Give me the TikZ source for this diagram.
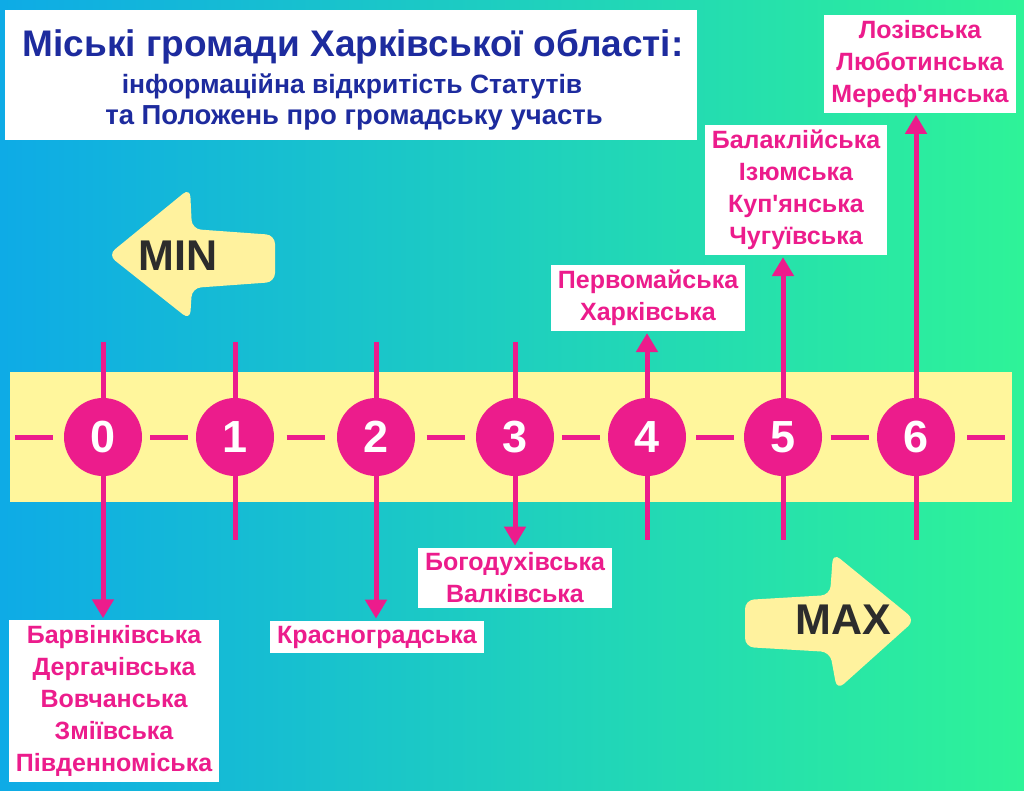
\documentclass[tikz,border=0pt]{standalone}
\usepackage{fontspec}
\setmainfont{Liberation Sans}
\usetikzlibrary{arrows.meta,calc}

\definecolor{bgblue}{HTML}{0EABE6}
\definecolor{bgteal}{HTML}{19CACB}
\definecolor{bggreen}{HTML}{2EF398}
\definecolor{bandyellow}{HTML}{FFF69C}
\definecolor{pointyellow}{HTML}{FFF29E}
\definecolor{hubpink}{HTML}{EC1C8C}
\definecolor{titleblue}{HTML}{1D2B9E}
\definecolor{darktext}{HTML}{2C2C2C}

\begin{document}
\begin{tikzpicture}[x=1pt, y=-1pt,
    level/.style ={circle, fill=hubpink, inner sep=0pt, minimum size=78pt, text=white, font=\fontsize{45}{45}\selectfont\bfseries},
    tick/.style ={hubpink, line width=5pt},
    pointer/.style ={tick, -{Triangle[width=21pt,length=19pt]}, shorten >=2pt},
    namebox/.style ={fill=white, inner xsep=7pt, inner ysep=5pt, align=center, text=hubpink, font=\fontsize{25}{32}\selectfont\bfseries},
    heading/.style ={text=titleblue, font=\bfseries},
    bigarrow/.style ={fill=pointyellow, rounded corners=9pt},
    arrowtext/.style ={text=darktext, font=\fontsize{43}{43}\selectfont\bfseries}]

   \shade[left color=bgblue, middle color=bgteal, right color=bggreen] (0,0) rectangle (1024,790);
   \fill[bandyellow] (10,372) rectangle (1012,502);

   \node[fill=white, minimum width=692pt, minimum height=130pt] (titlebox) at (351,75) {};
   \node[heading, font=\fontsize{37}{37}\selectfont\bfseries] (title1) at (353,47) {Міські громади Харківської області:};
   \node[heading, font=\fontsize{26.5}{27}\selectfont\bfseries] (title2) at (352,86) {інформаційна відкритість Статутів};
   \node[heading, font=\fontsize{27.5}{28}\selectfont\bfseries] (title3) at (354,118) {та Положень про громадську участь};

   \fill[bigarrow] (108,255) -- (190,188) -- (192,229) -- (275,235) -- (275,282) -- (192,288) -- (190,320) -- cycle;
   \node[arrowtext] (minlabel) at (178,256) {MIN};
   \fill[bigarrow] (745,600) -- (830,595) -- (833,553) -- (915,620) -- (837,690) -- (830,652) -- (745,647) -- cycle;
   \node[arrowtext] (maxlabel) at (843,620) {MAX};

   \foreach \i/\x in {0/103,1/235,2/376,3/515,4/647,5/783,6/916} {
     \node[level] (l\i) at (\x,437) {\i};
     \coordinate (t\i) at (\x,342);
     \coordinate (u\i) at (\x,540);
   }

   \node[namebox] (b0) at (114,701) {Барвінківська\\Дергачівська\\Вовчанська\\Зміївська\\Південноміська};
   \node[namebox] (b2) at (377,637) {Красноградська};
   \node[namebox] (b3) at (515,578) {Богодухівська\\Валківська};
   \node[namebox] (b4) at (648,298) {Первомайська\\Харківська};
   \node[namebox] (b5) at (796,190) {Балаклійська\\Ізюмська\\Куп\textquotesingle янська\\Чугуївська};
   \node[namebox] (b6) at (920,64) {Лозівська\\Люботинська\\Мереф\textquotesingle янська};

   \foreach \i in {0,1,2,3} \draw[tick] (t\i) -- (l\i);
   \foreach \i in {1,4,5,6} \draw[tick] (l\i) -- (u\i);

   \foreach \a/\b in {0/1,1/2,2/3,3/4,4/5,5/6}
     \draw[tick] ($(l\a)!0.5!(l\b)$) +(-19,0) -- +(19,0);
   \draw[tick] (15,437) -- (53,437);
   \draw[tick] (967,437) -- (1005,437);

   \draw[pointer] (l0) -- (l0 |- b0.north);
   \draw[pointer] (l2) -- (l2 |- b2.north);
   \draw[pointer] (l3) -- (l3 |- b3.north);
   \draw[pointer] (l4) -- (l4 |- b4.south);
   \draw[pointer] (l5) -- (l5 |- b5.south);
   \draw[pointer] (l6) -- (l6 |- b6.south);

\end{tikzpicture}
\end{document}
